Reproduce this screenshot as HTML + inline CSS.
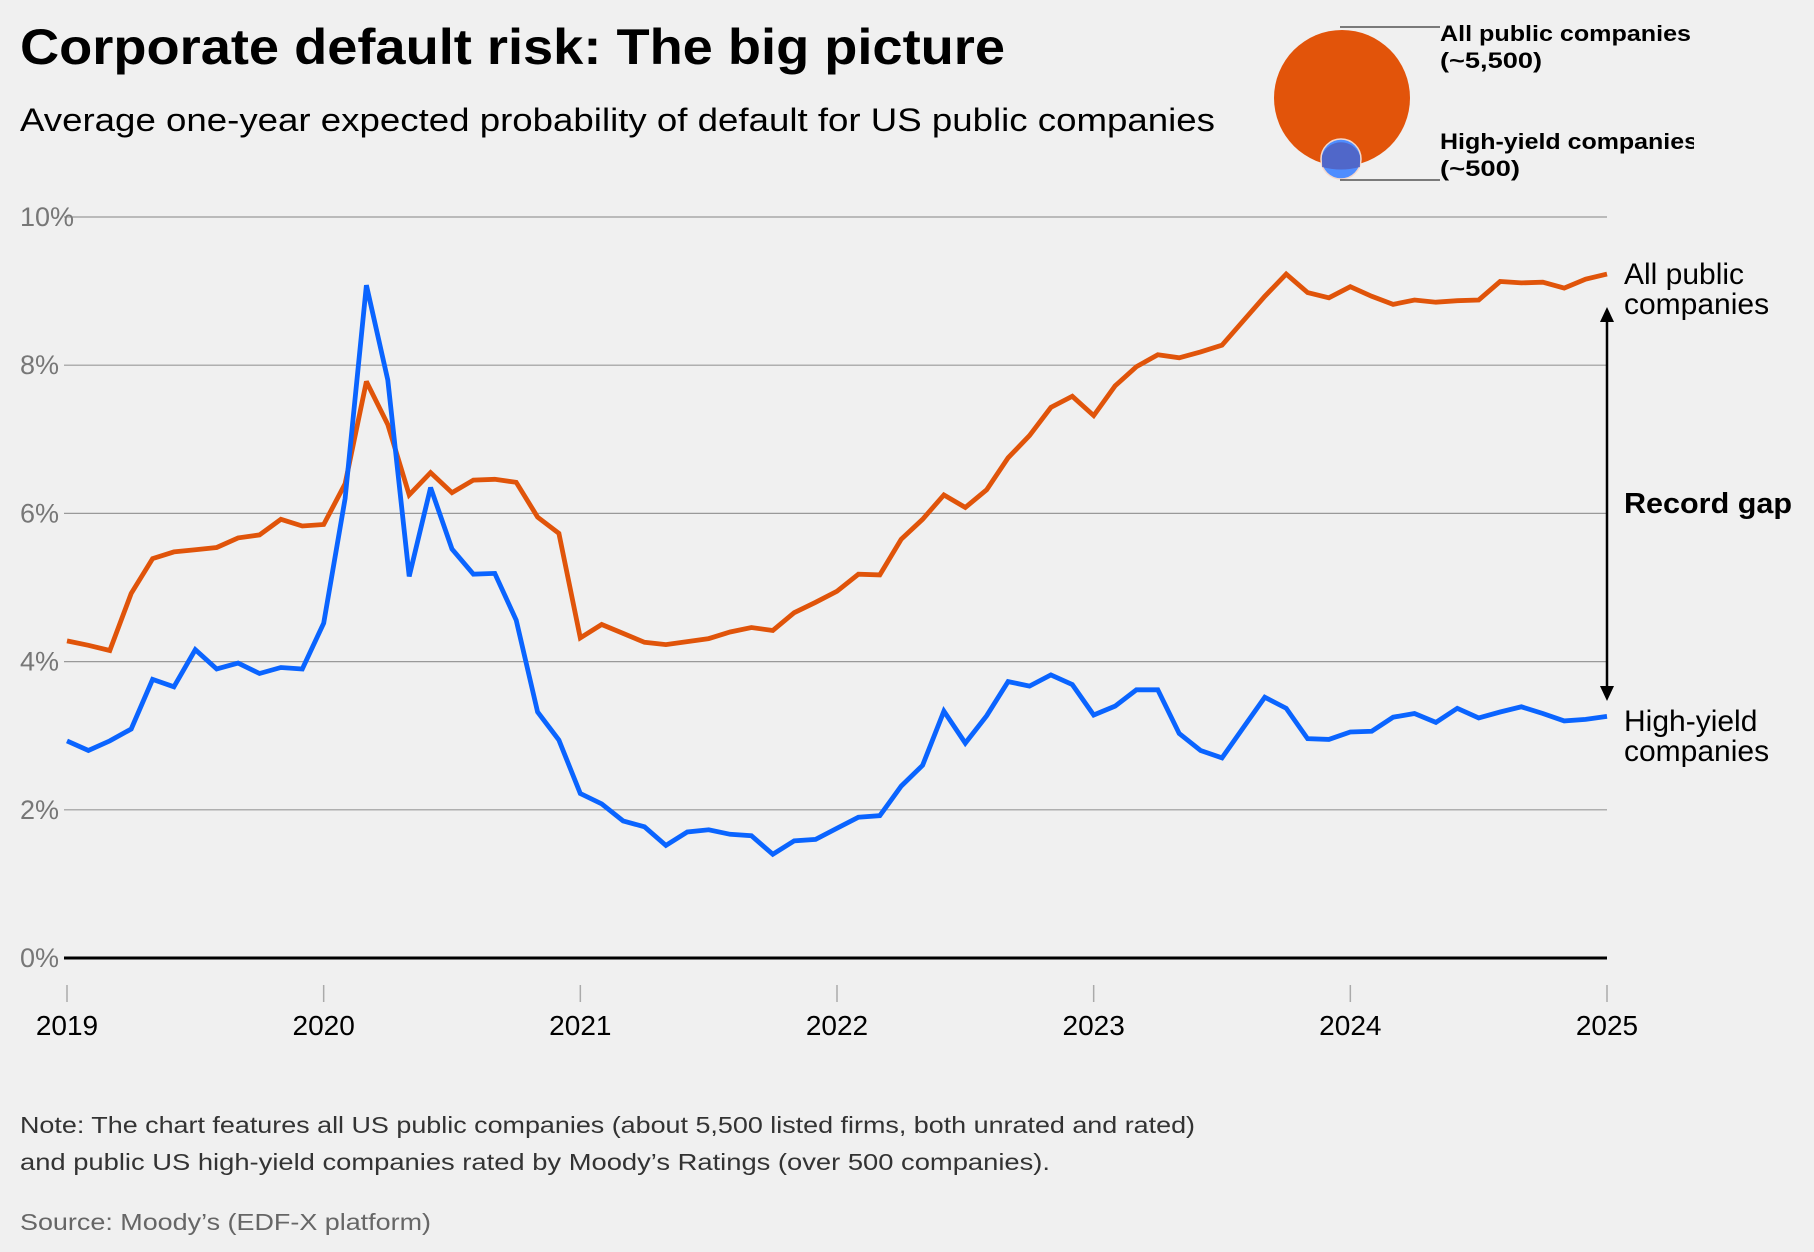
<!DOCTYPE html>
<html><head><meta charset="utf-8">
<style>
html,body{margin:0;padding:0;background:#f0f0f0;}
body{width:1814px;height:1252px;overflow:hidden;font-family:"Liberation Sans",sans-serif;}
svg{display:block}
</style></head>
<body>
<svg id="chart" width="1814" height="1252" viewBox="0 0 1814 1252" xmlns="http://www.w3.org/2000/svg">
<rect width="1814" height="1252" fill="#f0f0f0"/>
<text x="20" y="64" font-size="50" font-weight="bold" fill="#000" textLength="985" lengthAdjust="spacingAndGlyphs">Corporate default risk: The big picture</text>
<text x="20" y="131" font-size="32" fill="#000" textLength="1195" lengthAdjust="spacingAndGlyphs">Average one-year expected probability of default for US public companies</text>

<g>
<circle cx="1342" cy="98" r="68" fill="#e2540a"/>
<circle cx="1341" cy="159" r="20" fill="#4f8dff" stroke="#f4d8cc" stroke-width="1.5"/>
<path d="M1322 156 A20 20 0 0 1 1360 156 L1360 167 Q1341 172 1322 167 Z" fill="#5060c0" opacity="0.85"/>
<line x1="1340" y1="27" x2="1440" y2="27" stroke="#333" stroke-width="1.2"/>
<line x1="1340" y1="180" x2="1440" y2="180" stroke="#333" stroke-width="1.2"/>
<text x="1440" y="41" font-size="22" font-weight="bold" textLength="251" lengthAdjust="spacingAndGlyphs">All public companies</text>
<text x="1440" y="68" font-size="22" font-weight="bold" textLength="102" lengthAdjust="spacingAndGlyphs">(~5,500)</text>
<text x="1440" y="149" font-size="22" font-weight="bold" textLength="258" lengthAdjust="spacingAndGlyphs">High-yield companies</text>
<text x="1440" y="176" font-size="22" font-weight="bold" textLength="80" lengthAdjust="spacingAndGlyphs">(~500)</text>
</g>
<rect x="1694" y="120" width="40" height="40" fill="#f0f0f0"/>

<g id="grid"></g>
<g id="lines"></g>

<g>
<line x1="1607" y1="318" x2="1607" y2="690" stroke="#000" stroke-width="2.5"/>
<path d="M1600 322 L1607 307 L1614 322 Z" fill="#000"/>
<path d="M1600 686 L1607 701 L1614 686 Z" fill="#000"/>
<text x="1624" y="513" font-size="29" font-weight="bold" textLength="168" lengthAdjust="spacingAndGlyphs">Record gap</text>
</g>
<text x="1624" y="284" font-size="30"><tspan x="1624">All public</tspan><tspan x="1624" dy="30">companies</tspan></text>
<text x="1624" y="731" font-size="30"><tspan x="1624">High-yield</tspan><tspan x="1624" dy="30">companies</tspan></text>

<g>
<text x="20" y="1133" font-size="23" fill="#333" textLength="1175" lengthAdjust="spacingAndGlyphs">Note: The chart features all US public companies (about 5,500 listed firms, both unrated and rated)</text>
<text x="20" y="1170" font-size="23" fill="#333" textLength="1030" lengthAdjust="spacingAndGlyphs">and public US high-yield companies rated by Moody’s Ratings (over 500 companies).</text>
</g>
<text x="20" y="1230" font-size="23" fill="#666" textLength="411" lengthAdjust="spacingAndGlyphs">Source: Moody’s (EDF-X platform)</text>
</svg>
<script>
const yTicks = [0, 2, 4, 6, 8, 10];
const yTickLabels = ["0%", "2%", "4%", "6%", "8%", "10%"];
const years = [2019, 2020, 2021, 2022, 2023, 2024, 2025];
const allPublic = [4.28,4.22,4.15,4.92,5.39,5.48,5.51,5.54,5.67,5.71,5.92,5.83,
5.85,6.4,7.78,7.2,6.25,6.55,6.28,6.45,6.46,6.42,5.95,5.73,
4.32,4.5,4.38,4.26,4.23,4.27,4.31,4.4,4.46,4.42,4.66,4.8,
4.95,5.18,5.17,5.65,5.92,6.25,6.08,6.32,6.75,7.05,7.43,7.58,
7.32,7.72,7.98,8.14,8.1,8.18,8.27,8.6,8.93,9.23,8.98,8.91,
9.06,8.93,8.82,8.88,8.85,8.87,8.88,9.13,9.11,9.12,9.04,9.16,9.23];
const highYield = [2.93,2.8,2.93,3.09,3.76,3.66,4.16,3.9,3.98,3.84,3.92,3.9,
4.52,6.2,9.08,7.8,5.15,6.35,5.52,5.18,5.19,4.56,3.32,2.94,
2.22,2.08,1.85,1.77,1.52,1.7,1.73,1.67,1.65,1.4,1.58,1.6,
1.75,1.9,1.92,2.32,2.6,3.33,2.9,3.27,3.73,3.67,3.82,3.69,
3.28,3.4,3.62,3.62,3.03,2.8,2.7,3.11,3.52,3.37,2.96,2.95,
3.05,3.06,3.25,3.3,3.18,3.37,3.24,3.32,3.39,3.3,3.2,3.22,3.26];

const NS = "http://www.w3.org/2000/svg";
const X0 = 67, X1 = 1607, Y0 = 958, Y10 = 217;
function xMonth(i){ return X0 + (X1 - X0) * i / 72; }
function xYear(y){ return X0 + (X1 - X0) * (y - 2019) / 6; }
function yVal(v){ return Y0 - (Y0 - Y10) * v / 10; }
function mk(tag, attrs, parent){
  const e = document.createElementNS(NS, tag);
  for (const k in attrs) e.setAttribute(k, attrs[k]);
  parent.appendChild(e); return e;
}
const grid = document.getElementById('grid');
yTicks.forEach((t, i) => {
  const y = yVal(t);
  const l = mk('line', {x1: 64, x2: X1, y1: y, y2: y, stroke: t === 0 ? '#000' : '#999', 'stroke-width': t === 0 ? 3 : 1.2}, grid);
  
  
  const tx = mk('text', {x: 20, y: y + 9, 'font-size': 27, fill: '#777'}, grid);
  tx.textContent = yTickLabels[i];
  
  
});
years.forEach(yr => {
  const x = xYear(yr);
  const tk = mk('line', {x1: x, x2: x, y1: 985, y2: 1002, stroke: '#aaa', 'stroke-width': 1.5}, grid);
  
  
  const tx = mk('text', {x: x, y: 1035, 'font-size': 28, 'text-anchor': 'middle', fill: '#000'}, grid);
  tx.textContent = yr;
  
  
});

const lines = document.getElementById('lines');
function drawSeries(vals, color, name){
  const d = vals.map((v, i) => (i ? 'L' : 'M') + xMonth(i).toFixed(1) + ' ' + yVal(v).toFixed(1)).join(' ');
  const p = mk('path', {d: d, fill: 'none', stroke: color, 'stroke-width': 4.8, 'stroke-linejoin': 'miter', 'stroke-miterlimit': 3}, lines);
  
  
}
drawSeries(allPublic, '#e0540a', 'line-all-public');
drawSeries(highYield, '#0a64ff', 'line-high-yield');
</script>
</body></html>
